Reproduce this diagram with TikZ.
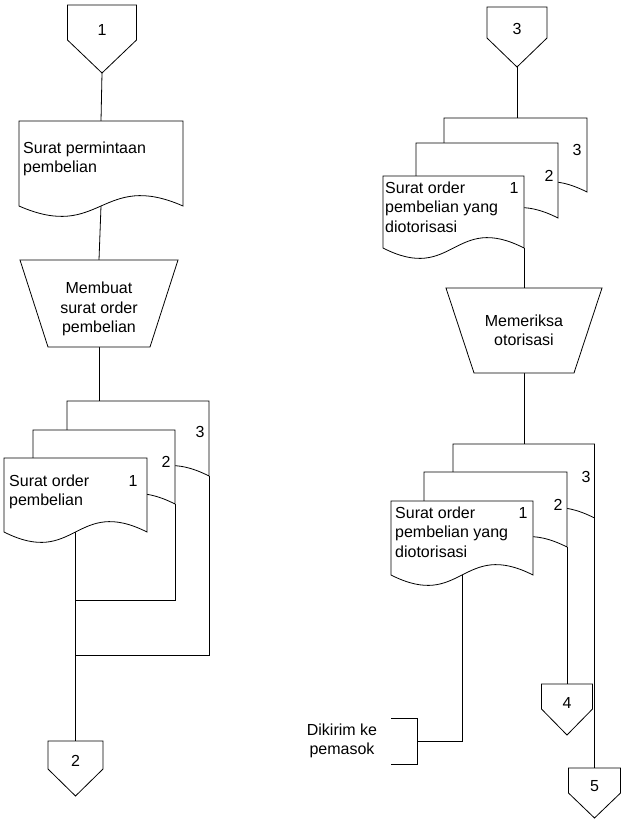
\documentclass[tikz,border=0pt]{standalone}
\usepackage{fontspec}
\setmainfont{Liberation Sans}
\pgfdeclarelayer{bg}
\pgfsetlayers{bg,main}

% Document symbol: name, left, top, right, level of the wavy bottom edge
\newcommand\DrawDoc[5]{%
  \pgfmathsetmacro\docmid{(#2+#4)/2}%
  \draw[shapebox] (#2,#3) -- (#4,#3) -- (#4,#5)
    .. controls (\docmid,#5-36) and (\docmid,#5+36) .. (#2,#5) -- cycle;
  \coordinate (#1-top) at (\docmid,#3);
  \coordinate (#1-mid) at (\docmid,#5);
  \coordinate (#1-rb) at (#4,#5);
}
% Manual operation (trapezoid): name, centre x, top, bottom, top half width, bottom half width
\newcommand\DrawManual[6]{%
  \draw[shapebox] (#2-#5,#3) -- (#2+#5,#3) -- (#2+#6,#4) -- (#2-#6,#4) -- cycle;
  \coordinate (#1-top) at (#2,#3);
  \coordinate (#1-bot) at (#2,#4);
}
% Off-page connector: name, centre x, top, shoulder, tip, half width, label, label y
\newcommand\DrawOffPage[8]{%
  \draw[shapebox] (#2-#6,#3) -- (#2+#6,#3) -- (#2+#6,#4) -- (#2,#5) -- (#2-#6,#4) -- cycle;
  \coordinate (#1-top) at (#2,#3);
  \coordinate (#1-tip) at (#2,#5);
  \node[lbl] (#1-label) at (#2,#8) {#7};
}

\begin{document}
\begin{tikzpicture}[x=1pt,y=-1pt,
  shapebox/.style={draw=black,line width=0.8pt,fill=white,line join=miter},
  flow/.style={draw=black,line width=0.8pt},
  lbl/.style={font=\fontsize{16}{19.5}\selectfont,inner sep=0pt,text=black},
  doctext/.style={lbl,align=left,anchor=base west},
  num/.style={lbl}]
\useasboundingbox (0,0) rectangle (621,820);

% ---------------- left column ----------------
\DrawOffPage{c1}{102}{5}{40}{73}{34.5}{1}{30}
\DrawDoc{dA}{19}{121}{183}{206}
\node[doctext] (dA-text) at (23,172.5) {Surat permintaan\\pembelian};
\DrawManual{T1}{99}{260}{347}{79}{51}
\node[lbl,align=center] (T1-text) at (99,309) {Membuat\\surat order\\pembelian};

\DrawDoc{L3}{67}{401}{209}{476}
\DrawDoc{L2}{33}{430}{175}{504}
\DrawDoc{L1}{4}{458}{147}{532}
\node[doctext] (L1-text) at (9,505.5) {Surat order\\pembelian};
\node[num] (L1-num) at (133,480.5) {1};
\node[num] (L2-num) at (166,462) {2};
\node[num] (L3-num) at (200,432) {3};

\DrawOffPage{c2}{75.5}{741}{769}{796}{27.5}{2}{760.5}
\coordinate (j2) at (75.5,600);
\coordinate (j3) at (75.5,655);

% ---------------- right column ----------------
\DrawOffPage{c3}{517}{7}{38}{67}{30}{3}{29}
\DrawDoc{R3}{444}{118}{587}{192}
\DrawDoc{R2}{416}{143}{558}{218}
\DrawDoc{R1}{383}{176}{524}{248}
\node[doctext] (R1-text) at (385,232) {Surat order\\pembelian yang\\diotorisasi};
\node[num] (R1-num) at (514,187.5) {1};
\node[num] (R2-num) at (549,176) {2};
\node[num] (R3-num) at (577,150) {3};

\DrawManual{T2}{524}{288}{373}{78}{50}
\node[lbl,align=center] (T2-text) at (524,330.5) {Memeriksa\\otorisasi};

\DrawDoc{S3}{453}{444}{594.5}{518}
\DrawDoc{S2}{424}{472}{567}{547}
\DrawDoc{S1}{391}{501}{533}{575}
\node[doctext] (S1-text) at (395,557) {Surat order\\pembelian yang\\diotorisasi};
\node[num] (S1-num) at (523,512.5) {1};
\node[num] (S2-num) at (558,504.5) {2};
\node[num] (S3-num) at (586,476.5) {3};

\DrawOffPage{c4}{567}{684}{709}{735}{25.5}{4}{702.5}
\DrawOffPage{c5}{594.5}{768}{793}{818}{26}{5}{786}

% annotation bracket
\draw[flow] (391,718) -- (417,718) -- (417,764) -- (391,764);
\coordinate (br-mid) at (417,741);
\node[lbl,align=center] (note) at (342,741) {Dikirim ke\\pemasok};

% ---------------- flow lines ----------------
\begin{pgfonlayer}{bg}
  \draw[flow] (c1-tip) -- (dA-top);
  \draw[flow] (dA-mid) -- (T1-top);
  \draw[flow] (T1-bot) -- (T1-bot |- L3-top);
  \draw[flow] (L1-mid) -- (c2-top);
  \draw[flow] (L2-rb) |- (j2);
  \draw[flow] (L3-rb) |- (j3);

  \draw[flow] (c3-tip) -- (c3-tip |- R3-top);
  \draw[flow] (R1-rb) -- (T2-top);
  \draw[flow] (T2-bot) -- (T2-bot |- S3-top);
  \draw[flow] (S1-mid) |- (br-mid);
  \draw[flow] (S2-rb) -- (c4-top);
  \draw[flow] (S3-rb) -- (c5-top);
\end{pgfonlayer}
\end{tikzpicture}
\end{document}
